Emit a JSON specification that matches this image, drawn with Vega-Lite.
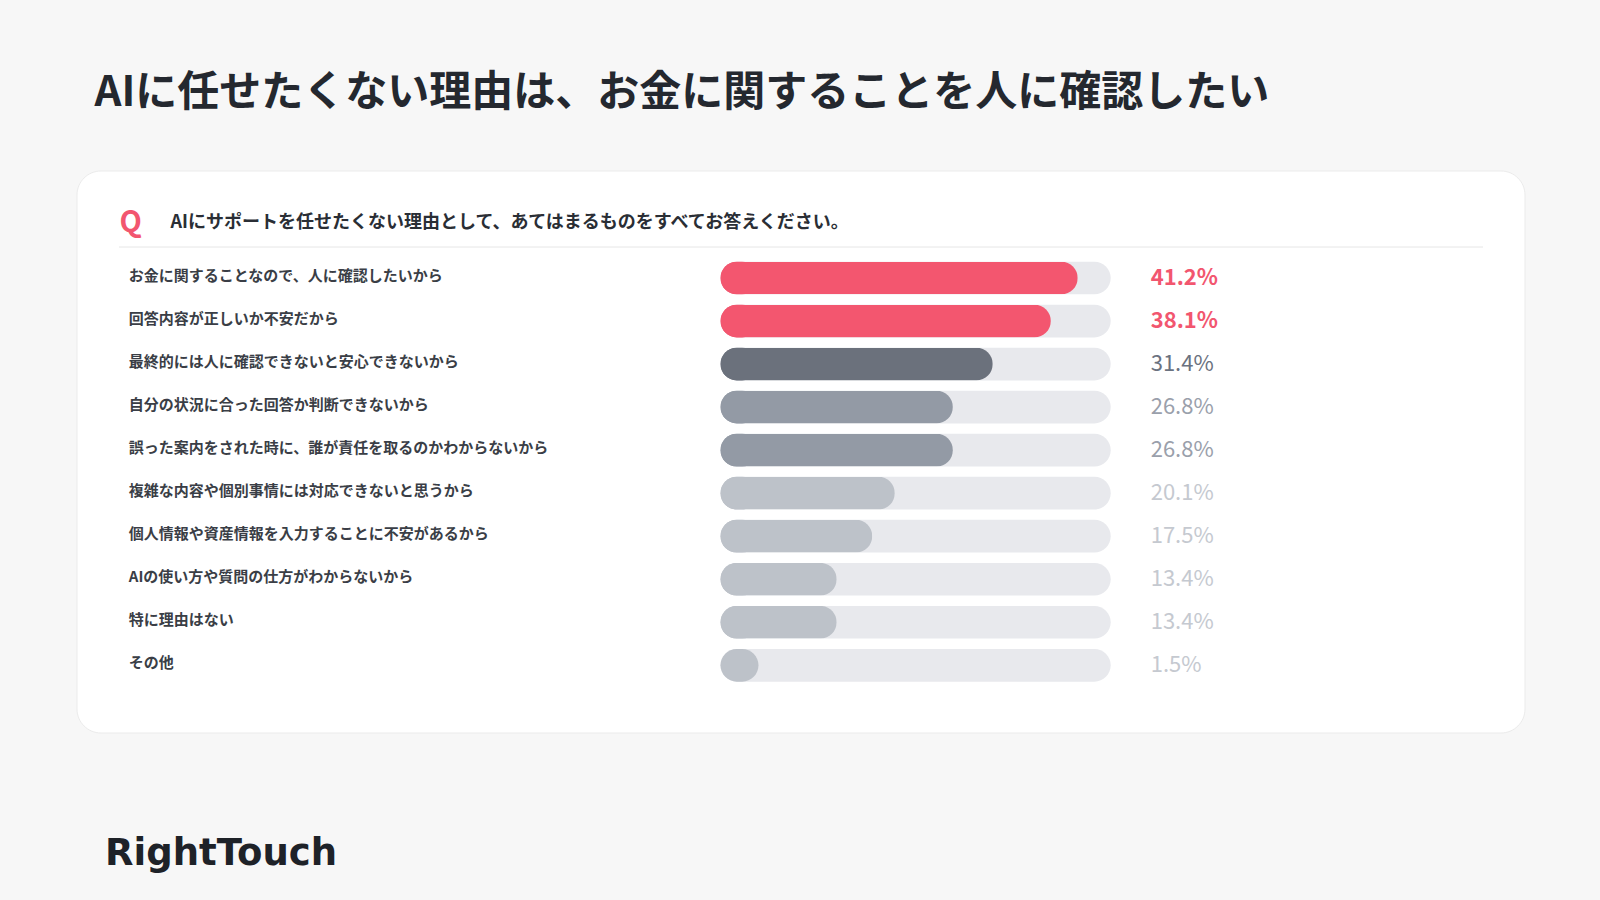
{
  "$schema": "https://vega.github.io/schema/vega-lite/v6.json",
  "width": 1448,
  "height": 562,
  "autosize": {"type": "none"},
  "padding": {"left": 76.5, "top": 170.5, "right": 75.5, "bottom": 167.5},
  "background": "#f7f7f7",
  "config": {
    "font": "Noto Sans CJK JP",
    "view": {"fill": "#ffffff", "stroke": "#ebebeb", "strokeWidth": 1, "cornerRadius": 24}
  },
  "title": {
    "text": "AIに任せたくない理由は、お金に関することを人に確認したい",
    "anchor": "start",
    "frame": "group",
    "dx": 18,
    "offset": 22.5,
    "baseline": "alphabetic",
    "font": "Noto Sans CJK JP",
    "fontSize": 42,
    "fontWeight": "bold",
    "color": "#24282f"
  },
  "data": {
    "values": [
      {"reason": "お金に関することなので、人に確認したいから", "share": 0.412},
      {"reason": "回答内容が正しいか不安だから", "share": 0.381},
      {"reason": "最終的には人に確認できないと安心できないから", "share": 0.314},
      {"reason": "自分の状況に合った回答か判断できないから", "share": 0.268},
      {"reason": "誤った案内をされた時に、誰が責任を取るのかわからないから", "share": 0.268},
      {"reason": "複雑な内容や個別事情には対応できないと思うから", "share": 0.201},
      {"reason": "個人情報や資産情報を入力することに不安があるから", "share": 0.175},
      {"reason": "AIの使い方や質問の仕方がわからないから", "share": 0.134},
      {"reason": "特に理由はない", "share": 0.134},
      {"reason": "その他", "share": 0.015}
    ]
  },
  "encoding": {
    "y": {
      "field": "reason",
      "type": "nominal",
      "sort": null,
      "scale": {"type": "band", "range": [86, 516.3], "paddingInner": 0, "paddingOuter": 0},
      "axis": {
        "orient": "left",
        "domain": false,
        "ticks": false,
        "grid": false,
        "labelAlign": "left",
        "labelBaseline": "middle",
        "labelPadding": -51.8,
        "labelOffset": -2,
        "labelFont": "Noto Sans CJK JP",
        "labelFontSize": 15,
        "labelFontWeight": "bold",
        "labelColor": "#3a3e46",
        "labelLimit": 0,
        "title": "Q",
        "titleAngle": 0,
        "titleX": 42.5,
        "titleY": 61,
        "titleAlign": "left",
        "titleBaseline": "alphabetic",
        "titleFont": "Noto Sans CJK JP",
        "titleFontSize": 29,
        "titleFontWeight": "bold",
        "titleColor": "#f2566f"
      }
    }
  },
  "layer": [
    {
      "mark": {"type": "point", "opacity": 0},
      "encoding": {
        "x": {
          "datum": 0,
          "type": "quantitative",
          "scale": {"domain": [0, 1], "range": [42, 1406]},
          "axis": {
            "orient": "top",
            "offset": -76,
            "domain": true,
            "domainColor": "#e6e6e6",
            "domainWidth": 1,
            "ticks": false,
            "labels": false,
            "grid": false,
            "title": "AIにサポートを任せたくない理由として、あてはまるものをすべてお答えください。",
            "titleX": 93.5,
            "titleY": -19.5,
            "titleAlign": "left",
            "titleBaseline": "alphabetic",
            "titleFont": "Noto Sans CJK JP",
            "titleFontSize": 18,
            "titleFontWeight": "bold",
            "titleColor": "#2a2e35"
          }
        }
      }
    },
    {
      "mark": {"type": "bar", "color": "#e8e9ed", "cornerRadius": 16.35},
      "encoding": {
        "x": {
          "datum": 0.45,
          "type": "quantitative",
          "scale": {"domain": [0, 0.45], "range": [644, 1034.2]},
          "axis": {
            "orient": "bottom",
            "domain": false,
            "ticks": false,
            "labels": false,
            "grid": false,
            "title": "RightTouch",
            "titleX": 28,
            "titleY": 132,
            "titleAlign": "left",
            "titleBaseline": "alphabetic",
            "titleFont": "DejaVu Sans",
            "titleFontSize": 37,
            "titleFontWeight": "bold",
            "titleColor": "#1e2228"
          }
        },
        "size": {"value": 32.7}
      }
    },
    {
      "mark": {"type": "bar", "cornerRadius": 16.35},
      "encoding": {
        "x": {
          "datum": 0.0438,
          "type": "quantitative",
          "scale": {"domain": [0, 0.45], "range": [644, 1034.2]},
          "axis": null
        },
        "size": {"value": 32.7},
        "color": {
          "condition": [
            {"test": "datum.share >= 0.35", "value": "#f3566f"},
            {"test": "datum.share >= 0.3", "value": "#6b717c"},
            {"test": "datum.share >= 0.25", "value": "#939aa5"}
          ],
          "value": "#bdc2c9"
        }
      }
    },
    {
      "transform": [{"filter": "datum.share >= 0.05"}],
      "mark": {"type": "bar", "cornerRadius": 16.35},
      "encoding": {
        "x": {
          "field": "share",
          "type": "quantitative",
          "scale": {"domain": [0, 0.45], "range": [644, 1034.2]},
          "axis": null
        },
        "size": {"value": 32.7},
        "color": {
          "condition": [
            {"test": "datum.share >= 0.35", "value": "#f3566f"},
            {"test": "datum.share >= 0.3", "value": "#6b717c"},
            {"test": "datum.share >= 0.25", "value": "#939aa5"}
          ],
          "value": "#bdc2c9"
        }
      }
    },
    {
      "transform": [{"filter": "datum.share >= 0.35"}],
      "mark": {"type": "text", "align": "left", "baseline": "middle", "dx": 40, "font": "Noto Sans CJK JP", "fontSize": 22, "fontWeight": "bold", "color": "#f2566f"},
      "encoding": {
        "x": {
          "datum": 0.45,
          "type": "quantitative",
          "scale": {"domain": [0, 0.45], "range": [644, 1034.2]},
          "axis": null
        },
        "text": {"field": "share", "type": "quantitative", "format": ".1%"}
      }
    },
    {
      "transform": [{"filter": "datum.share < 0.35"}],
      "mark": {"type": "text", "align": "left", "baseline": "middle", "dx": 40, "font": "Noto Sans CJK JP", "fontSize": 22, "fontWeight": "normal"},
      "encoding": {
        "x": {
          "datum": 0.45,
          "type": "quantitative",
          "scale": {"domain": [0, 0.45], "range": [644, 1034.2]},
          "axis": null
        },
        "text": {"field": "share", "type": "quantitative", "format": ".1%"},
        "color": {
          "condition": [
            {"test": "datum.share >= 0.3", "value": "#6b7280"},
            {"test": "datum.share >= 0.25", "value": "#9aa0ab"}
          ],
          "value": "#c5c9d0"
        }
      }
    }
  ],
  "resolve": {"scale": {"x": "independent"}, "axis": {"x": "independent"}}
}
